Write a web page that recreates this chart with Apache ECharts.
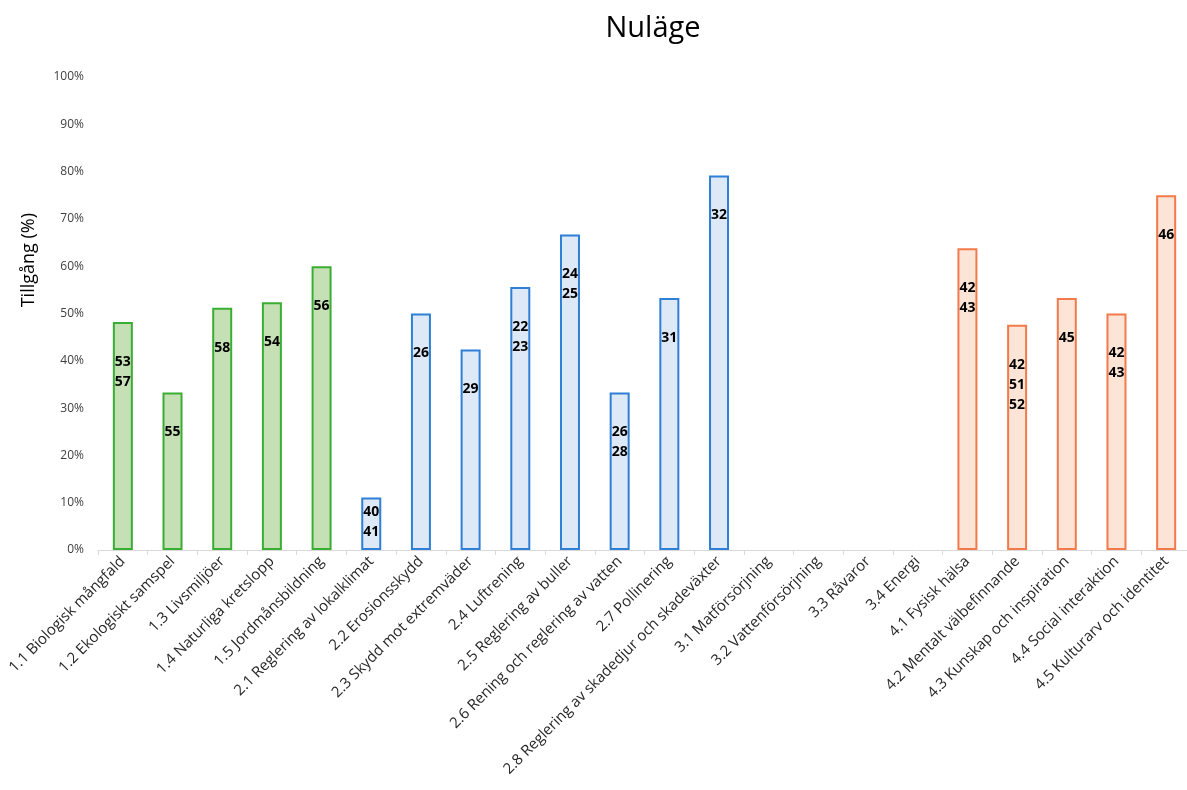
<!DOCTYPE html>
<html>
<head>
<meta charset="utf-8">
<title>Nuläge</title>
<script src="https://cdn.jsdelivr.net/npm/echarts@6/dist/echarts.min.js"></script>
<style>
  html, body { margin: 0; padding: 0; background: #fff; }
  #chart { width: 1187px; height: 790px; }
</style>
</head>
<body>
<div id="chart"></div>
<script>
// ---- data ----
var categories = [
  "1.1 Biologisk mångfald", "1.2 Ekologiskt samspel", "1.3 Livsmiljöer",
  "1.4 Naturliga kretslopp", "1.5 Jordmånsbildning", "2.1 Reglering av lokalklimat",
  "2.2 Erosionsskydd", "2.3 Skydd mot extremväder", "2.4 Luftrening",
  "2.5 Reglering av buller", "2.6 Rening och reglering av vatten", "2.7 Pollinering",
  "2.8 Reglering av skadedjur och skadeväxter", "3.1 Matförsörjning",
  "3.2 Vattenförsörjning", "3.3 Råvaror", "3.4 Energi", "4.1 Fysisk hälsa",
  "4.2 Mentalt välbefinnande", "4.3 Kunskap och inspiration",
  "4.4 Social interaktion", "4.5 Kulturarv och identitet"
];
var values = [
  48.2, 33.3, 51.2, 52.4, 60.0, 11.1,
  50.0, 42.4, 55.6, 66.7, 33.3, 53.3, 79.2,
  null, null, null, null,
  63.8, 47.6, 53.3, 50.0, 75.0
];
var barLabels = [
  "53\n57", "55", "58", "54", "56", "40\n41",
  "26", "29", "22\n23", "24\n25", "26\n28", "31", "32",
  "", "", "", "",
  "42\n43", "42\n51\n52", "45", "42\n43", "46"
];
var yTicks = [0, 10, 20, 30, 40, 50, 60, 70, 80, 90, 100];

// ---- colours per group (first digit of category) ----
var GROUP_STYLE = {
  "1": { fill: "#c5e0b4", border: "#3aae33" },
  "2": { fill: "#dde9f6", border: "#2f7fd6" },
  "3": { fill: "#dde9f6", border: "#2f7fd6" },
  "4": { fill: "#fce4d6", border: "#f27a4b" }
};

var chart = echarts.init(document.getElementById("chart"), null, { renderer: "canvas" });

var seriesData = values.map(function (v, i) {
  var g = GROUP_STYLE[categories[i].charAt(0)];
  if (v == null) return "-";
  return {
    value: v,
    itemStyle: { color: g.fill, borderColor: g.border, borderWidth: 2 },
    label: { distance: v < 20 ? 5 : 30 }
  };
});

chart.setOption({
  animation: false,
  textStyle: { fontFamily: "'Open Sans', 'Noto Sans', sans-serif" },
  title: {
    text: "Nuläge",
    left: 648,
    top: 9,
    textAlign: "center",
    textStyle: { fontSize: 29, fontWeight: "normal", color: "#000", fontFamily: "'Open Sans', sans-serif" }
  },
  grid: { left: 98, top: 77, right: -4, bottom: 240, outerBoundsMode: "none", containLabel: false },
  graphic: [{
    type: "text",
    left: 20,
    top: 213,
    rotation: Math.PI / 2,
    style: { text: "Tillgång (%)", fontSize: 18, fill: "#000", fontFamily: "'Open Sans', sans-serif" }
  }],
  xAxis: {
    type: "category",
    data: categories,
    axisLine: { lineStyle: { color: "#d9d9d9", width: 1 } },
    axisTick: { show: true, length: 5, lineStyle: { color: "#d9d9d9" } },
    axisLabel: {
      interval: 0,
      rotate: 45,
      fontSize: 15,
      color: "#262626",
      margin: 9
    }
  },
  yAxis: {
    type: "value",
    min: yTicks[0],
    max: yTicks[yTicks.length - 1],
    interval: 10,
    axisLine: { show: false },
    axisTick: { show: false },
    splitLine: { show: false },
    axisLabel: { formatter: "{value}%", fontSize: 12, color: "#404040", margin: 14 }
  },
  series: [{
    type: "bar",
    data: seriesData,
    barWidth: 20,
    label: {
      show: true,
      position: "insideTop",
      formatter: function (p) { return barLabels[p.dataIndex]; },
      fontSize: 14,
      fontWeight: "bold",
      color: "#000",
      lineHeight: 20
    }
  }]
});
</script>
</body>
</html>
